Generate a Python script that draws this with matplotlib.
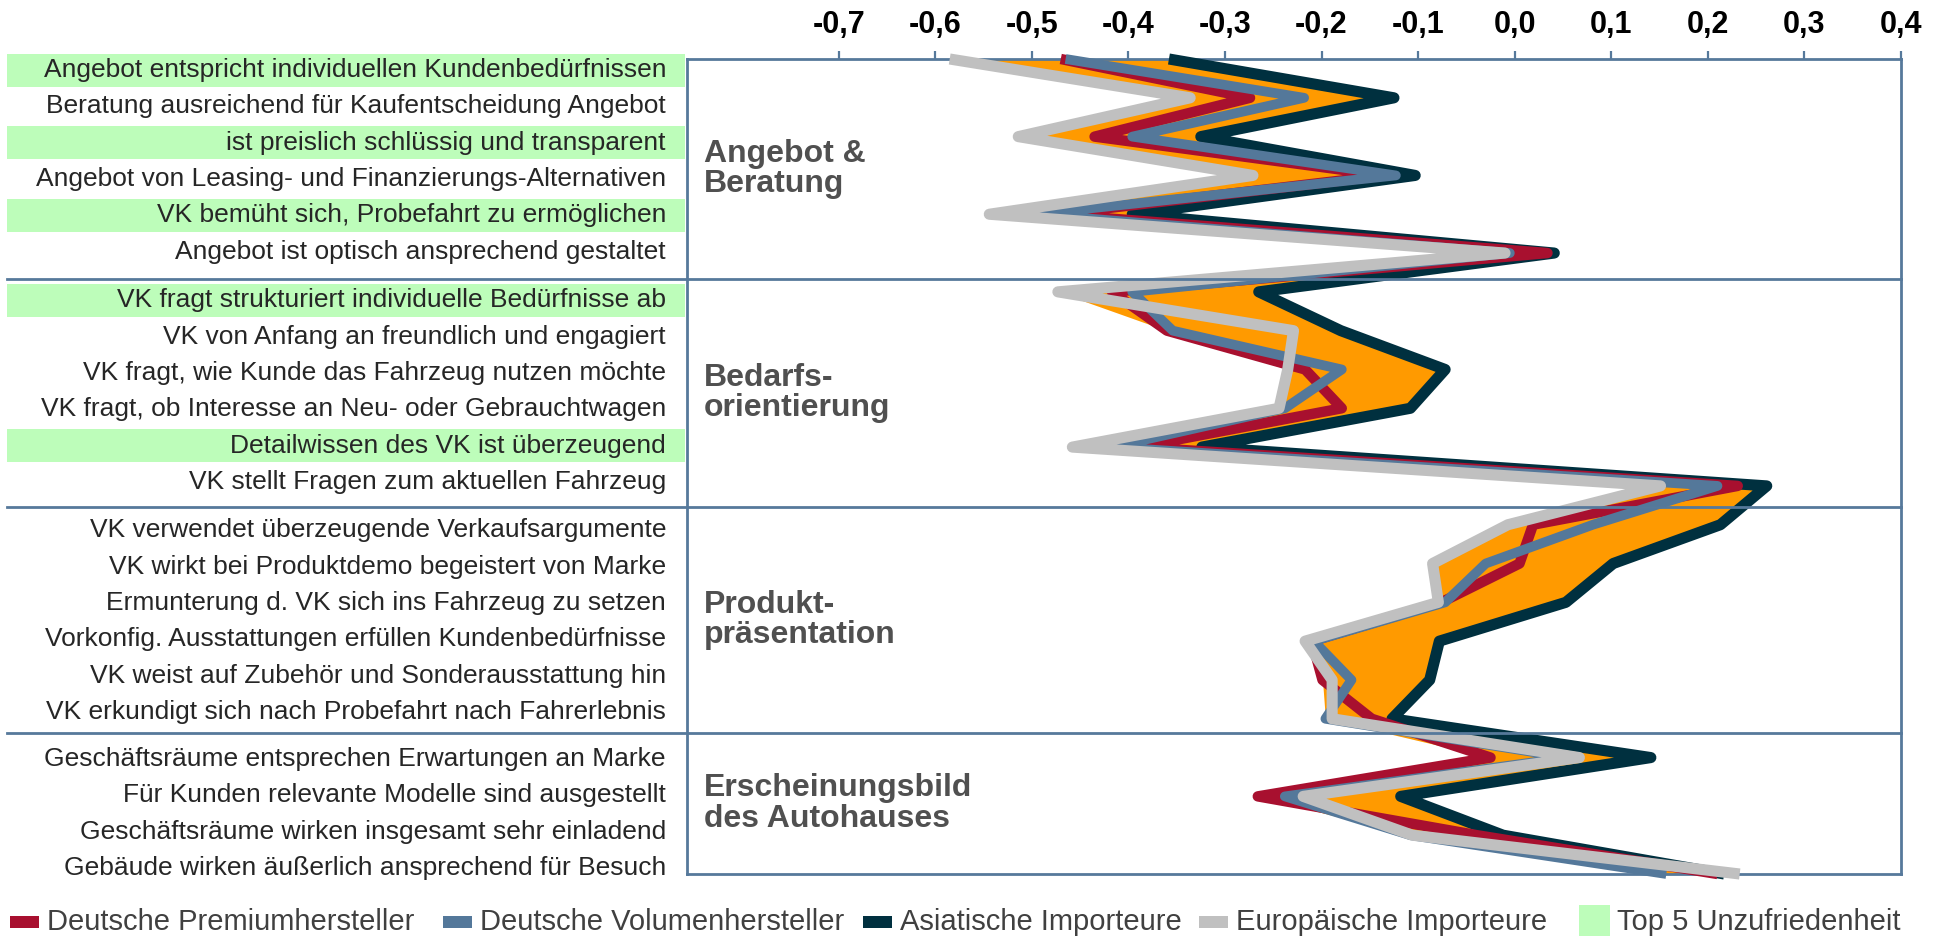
import numpy as np
import matplotlib
matplotlib.use("Agg")
import matplotlib.pyplot as plt
from matplotlib.patches import Rectangle

plt.rcParams['font.family'] = ['Liberation Sans', 'DejaVu Sans']

# ---- data ---------------------------------------------------------------
groups = ["Angebot &\nBeratung", "Bedarfs-\norientierung",
          "Produkt-\npräsentation", "Erscheinungsbild\ndes Autohauses"]

items = [
    ["Angebot entspricht individuellen Kundenbedürfnissen",
     "Beratung ausreichend für Kaufentscheidung Angebot",
     "ist preislich schlüssig und transparent",
     "Angebot von Leasing- und Finanzierungs-Alternativen",
     "VK bemüht sich, Probefahrt zu ermöglichen",
     "Angebot ist optisch ansprechend gestaltet"],
    ["VK fragt strukturiert individuelle Bedürfnisse ab",
     "VK von Anfang an freundlich und engagiert",
     "VK fragt, wie Kunde das Fahrzeug nutzen möchte",
     "VK fragt, ob Interesse an Neu- oder Gebrauchtwagen",
     "Detailwissen des VK ist überzeugend",
     "VK stellt Fragen zum aktuellen Fahrzeug"],
    ["VK verwendet überzeugende Verkaufsargumente",
     "VK wirkt bei Produktdemo begeistert von Marke",
     "Ermunterung d. VK sich ins Fahrzeug zu setzen",
     "Vorkonfig. Ausstattungen erfüllen Kundenbedürfnisse",
     "VK weist auf Zubehör und Sonderausstattung hin",
     "VK erkundigt sich nach Probefahrt nach Fahrerlebnis"],
    ["Geschäftsräume entsprechen Erwartungen an Marke",
     "Für Kunden relevante Modelle sind ausgestellt",
     "Geschäftsräume wirken insgesamt sehr einladend",
     "Gebäude wirken äußerlich ansprechend für Besuch"],
]

# rows marked as "Top 5 Unzufriedenheit"
top5 = ["Angebot entspricht individuellen Kundenbedürfnissen",
        "ist preislich schlüssig und transparent",
        "VK bemüht sich, Probefahrt zu ermöglichen",
        "VK fragt strukturiert individuelle Bedürfnisse ab",
        "Detailwissen des VK ist überzeugend"]

series_names = ["Deutsche Premiumhersteller", "Deutsche Volumenhersteller",
                "Asiatische Importeure", "Europäische Importeure"]

premium = [-0.470, -0.274, -0.435, -0.135, -0.475, 0.034,
           -0.417, -0.360, -0.217, -0.179, -0.390, 0.231,
           0.019, 0.005, -0.076, -0.210, -0.199, -0.148,
           -0.025, -0.266, -0.039, 0.210]
volumen = [-0.465, -0.218, -0.396, -0.123, -0.496, -0.005,
           -0.396, -0.354, -0.179, -0.238, -0.417, 0.210,
           0.081, -0.030, -0.072, -0.208, -0.169, -0.196,
           0.055, -0.238, -0.108, 0.157]
asien = [-0.358, -0.125, -0.325, -0.103, -0.396, 0.041,
         -0.265, -0.180, -0.072, -0.108, -0.324, 0.261,
         0.213, 0.102, 0.053, -0.078, -0.088, -0.127,
         0.141, -0.118, -0.012, 0.217]
europa = [-0.585, -0.336, -0.514, -0.271, -0.544, -0.010,
          -0.473, -0.229, -0.235, -0.244, -0.458, 0.151,
          -0.007, -0.085, -0.079, -0.217, -0.189, -0.189,
          0.067, -0.219, -0.106, 0.233]

xticks = [-0.7, -0.6, -0.5, -0.4, -0.3, -0.2, -0.1, 0.0, 0.1, 0.2, 0.3, 0.4]

# ---- style --------------------------------------------------------------
RED = "#A8102F"
BLUE = "#54789A"
DARK = "#00303F"
GRAY = "#C0C0C0"
ORANGE = "#FF9A00"
GREEN = "#BDFDBA"
FRAME = "#56799B"

W, H = 1942, 941
frame_l, frame_r, frame_t, frame_b = 687, 1901, 59, 874
group_edges = [59, 279, 507, 733, 874]
row_first = [70, 300.5, 530.5, 759]
row_step = 36.3

fig = plt.figure(figsize=(W / 100, H / 100), dpi=100)

ax = fig.add_axes([frame_l / W, 1 - frame_b / H,
                   (frame_r - frame_l) / W, (frame_b - frame_t) / H])

n = len(premium)
y = np.arange(n)
data = np.array([premium, volumen, asien, europa])

ax.fill_betweenx(y, data.min(axis=0), data.max(axis=0),
                 color=ORANGE, lw=0, zorder=1)

lines = [(asien, DARK, 8, 3), (premium, RED, 7.5, 4),
         (volumen, BLUE, 7, 5), (europa, GRAY, 8, 6)]
for vals, col, lw, z in lines:
    ax.plot(vals, y, color=col, lw=lw, solid_joinstyle="round",
            solid_capstyle="butt", zorder=z, clip_on=False)

ax.set_xlim(-0.857, 0.4)
ax.set_ylim(n - 1, 0)
ax.set_yticks([])
ax.xaxis.tick_top()
ax.set_xticks(xticks)
ax.set_xticklabels([("%.1f" % v).replace(".", ",") for v in xticks],
                   fontweight="bold", fontsize=22)
ax.tick_params(axis="x", direction="out", length=6, width=1.6,
               color=FRAME, pad=8)
for s in ax.spines.values():
    s.set_color(FRAME)
    s.set_linewidth(2)

# ---- overlay in pixel coordinates for labels, dividers and legend ------
bg = fig.add_axes([0, 0, 1, 1], zorder=5)
bg.set_xlim(0, W)
bg.set_ylim(H, 0)
bg.axis("off")
bg.patch.set_visible(False)

for g, rows in enumerate(items):
    for k, label in enumerate(rows):
        yc = row_first[g] + k * row_step
        if label in top5:
            bg.add_patch(Rectangle((7, yc - 16.5), 678, 33, color=GREEN, lw=0))
        bg.text(666, yc, label, ha="right", va="center", fontsize=19,
                color="#262626")
    mid = (group_edges[g] + group_edges[g + 1]) / 2
    bg.text(704, mid, groups[g], ha="left", va="center", fontsize=23,
            fontweight="bold", color="#505050", linespacing=1.02)

for yd in group_edges[1:-1]:
    bg.plot([7, frame_r], [yd, yd], color=FRAME, lw=2)

# legend
leg_x = [10, 443, 863, 1199]
for x0, name, col in zip(leg_x, series_names, [RED, BLUE, DARK, GRAY]):
    bg.add_patch(Rectangle((x0, 916), 29, 12, color=col, lw=0))
    bg.text(x0 + 37, 922, name, ha="left", va="center", fontsize=21,
            color="#404040")
bg.add_patch(Rectangle((1579, 905), 31, 31, color=GREEN, lw=0))
bg.text(1617, 922, "Top 5 Unzufriedenheit", ha="left", va="center",
        fontsize=21, color="#404040")

plt.savefig("out.png", dpi=100)
